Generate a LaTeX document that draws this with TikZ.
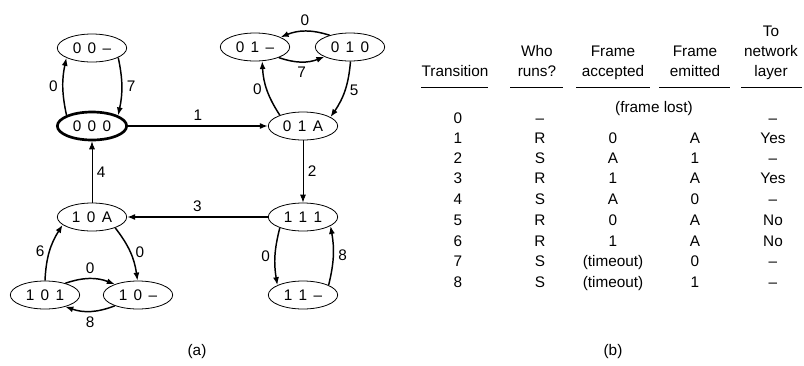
\documentclass[tikz,border=0pt]{standalone}
\usepackage{fontspec}
\setmainfont{Liberation Sans}
\usetikzlibrary{shapes.geometric,arrows.meta}
\newcommand{\statelbl}[3]{#1\hspace{.42em}#2\hspace{.42em}#3}
\begin{document}
\begin{tikzpicture}[x=0.75pt,y=-0.75pt,font=\fontsize{11.5}{15}\selectfont,
		state/.style={ellipse,draw,line width=0.6pt,minimum width=52pt,minimum height=21pt,inner sep=0pt},
		initstate/.style={state,line width=2pt},
		arc/.style={line width=1.1pt,-{Latex[length=6pt,width=4.5pt]}},
		thinarc/.style={line width=0.6pt,-{Latex[length=6pt,width=4.5pt]}},
		head/.style={anchor=south,align=center,inner sep=1pt},
		cell/.style={anchor=base,inner sep=0pt},
		rule/.style={line width=0.6pt}]
	\useasboundingbox (0,0) rectangle (804,365);
		\node[state] (s00d) at (92,48) {\statelbl00{--}};
		\node[initstate] (s000) at (92,126) {\statelbl000};
		\node[state] (s01d) at (255,47) {\statelbl01{--}};
		\node[state] (s010) at (350,47) {\statelbl010};
		\node[state] (s01A) at (303,126) {\statelbl01A};
		\node[state] (s10A) at (92,217) {\statelbl10A};
		\node[state] (s111) at (303,217) {\statelbl111};
		\node[state] (s101) at (45,295) {\statelbl101};
		\node[state] (s10d) at (138,295) {\statelbl10{--}};
		\node[state] (s11d) at (303,295) {\statelbl11{--}};
			\draw[arc] (s000.157) to[bend left=12] node[left]{0} (s00d.201);
			\draw[arc] (s00d.-20) to[bend left=12] node[right]{7} (s000.22);
			\draw[arc] (s000.east) -- node[above]{1} (s01A.west);
			\draw[arc] (s01A.155) to[bend left=15] node[left]{0} (s01d.-63);
			\draw[arc] (s010.-88) to[bend left=15] node[right]{5} (s01A.18);
			\draw[arc] (s010.150) to[bend right=20] node[above]{0} (s01d.21);
			\draw[arc] (s01d.-24) to[bend right=20] node[below]{7} (s010.201);
			\draw[thinarc] (s01A.south) -- node[right]{2} (s111.north);
			\draw[arc] (s111.west) -- node[above]{3} (s10A.east);
			\draw[thinarc] (s10A.north) -- node[right]{4} (s000.south);
			\draw[arc] (s111.205) to[bend right=12] node[left]{0} (s11d.159);
			\draw[arc] (s11d.21) to[bend right=12] node[right]{8} (s111.-18);
			\draw[arc] (s101.90) to[bend left=15] node[left]{6} (s10A.195);
			\draw[arc] (s10A.-25) to[bend left=15] node[right]{0} (s10d.92);
			\draw[arc] (s101.30) to[bend left=20] node[above]{0} (s10d.155);
			\draw[arc] (s10d.205) to[bend left=20] node[below]{8} (s101.-30);
		\node (capa) at (197,352) {(a)};
		\node[head] (hTr) at (455,84) {Transition\strut};
		\node[head] (hWho) at (537,84) {Who\\runs?\strut};
		\node[head] (hAcc) at (613,84) {Frame\\accepted\strut};
		\node[head] (hEm) at (695,84) {Frame\\emitted\strut};
		\node[head] (hNet) at (771,84) {To\\network\\layer\strut};
			\draw[rule] (421,87) -- (488,87);
			\draw[rule] (510,87) -- (563,87);
			\draw[rule] (576,87) -- (650,87);
			\draw[rule] (659,87) -- (730,87);
			\draw[rule] (741,87) -- (802,87);
		\node[cell] (lost) at (654,112) {(frame lost)};
		\node[cell] (t0) at (458,123) {0};
		\node[cell] (w0) at (540,123) {--};
		\node[cell] (n0) at (773,123) {--};
		\foreach \y/\t/\w/\a/\e/\n in {143/1/R/0/A/Yes,163/2/S/A/1/--,183/3/R/1/A/Yes,204/4/S/A/0/--,
			225/5/R/0/A/No,246/6/R/1/A/No,266/7/S/(timeout)/0/--,287/8/S/(timeout)/1/--}{
			\node[cell] (t\t) at (458,\y) {\t};
			\node[cell] (w\t) at (540,\y) {\w};
			\node[cell] (a\t) at (613,\y) {\a};
			\node[cell] (e\t) at (695,\y) {\e};
			\node[cell] (n\t) at (773,\y) {\n};
		}
		\node (capb) at (613,352) {(b)};
	\end{tikzpicture}
\end{document}
